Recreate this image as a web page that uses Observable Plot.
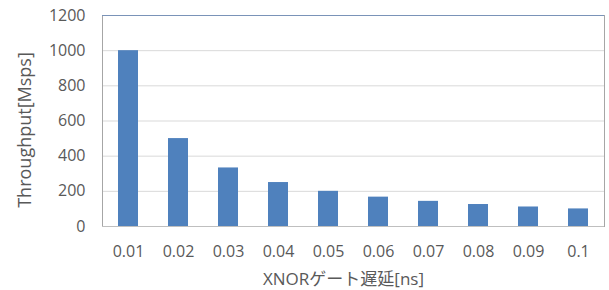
<!DOCTYPE html>
<html>
<head>
<meta charset="utf-8">
<script src="https://cdn.jsdelivr.net/npm/d3@7"></script>
<script src="https://cdn.jsdelivr.net/npm/@observablehq/plot@0.6"></script>
<style>
  html, body { margin: 0; padding: 0; background: #fff; }
  #chart svg { display: block; }
</style>
</head>
<body>
<div id="chart"></div>
<script>
const delays = ["0.01", "0.02", "0.03", "0.04", "0.05", "0.06", "0.07", "0.08", "0.09", "0.1"];
const throughput = [1000, 500, 333, 250, 200, 167, 143, 125, 111, 100];
const yTicks = [0, 200, 400, 600, 800, 1000, 1200];
const xTitle = "XNORゲート遅延[ns]";
const yTitle = "Throughput[Msps]";

const data = delays.map((d, i) => ({delay: d, value: throughput[i]}));

const chart = Plot.plot({
  width: 609,
  height: 290,
  marginLeft: 102,
  marginRight: 5,
  marginTop: 15,
  marginBottom: 64,
  style: {fontFamily: "'Open Sans', 'Noto Sans CJK JP', sans-serif", fontSize: "16px", color: "#595959", background: "#fff"},
  x: {domain: delays, paddingInner: 0.6, paddingOuter: 0.3, label: null},
  y: {domain: [0, 1200], label: null},
  marks: [
    Plot.gridY(yTicks, {stroke: "#d9d9d9", strokeOpacity: 1}),
    Plot.barY(data, {x: "delay", y: "value", fill: "#4f81bd"}),
    Plot.frame({stroke: "#a6a6a6"}),
    Plot.ruleX([0], {frameAnchor: "left", stroke: "#7a93b8"}),
    Plot.ruleY([1200], {stroke: "#7a93b8"}),
    Plot.ruleY([0], {stroke: "#bfbfbf"}),
    Plot.axisY(yTicks, {tickSize: 0, tickPadding: 17, fill: "#595959", fontSize: 16, tickFormat: d3.format("d"), label: null}),
    Plot.axisX({tickSize: 0, tickPadding: 19, fill: "#595959", fontSize: 16, label: null}),
    Plot.text([yTitle], {frameAnchor: "left", textAnchor: "middle", rotate: -90, dx: -77, dy: 9, fill: "#595959", fontSize: 18}),
    Plot.text([xTitle], {frameAnchor: "bottom", dx: -10, dy: 58, fill: "#595959", fontSize: 17})
  ]
});
document.getElementById("chart").appendChild(chart);
</script>
</body>
</html>
